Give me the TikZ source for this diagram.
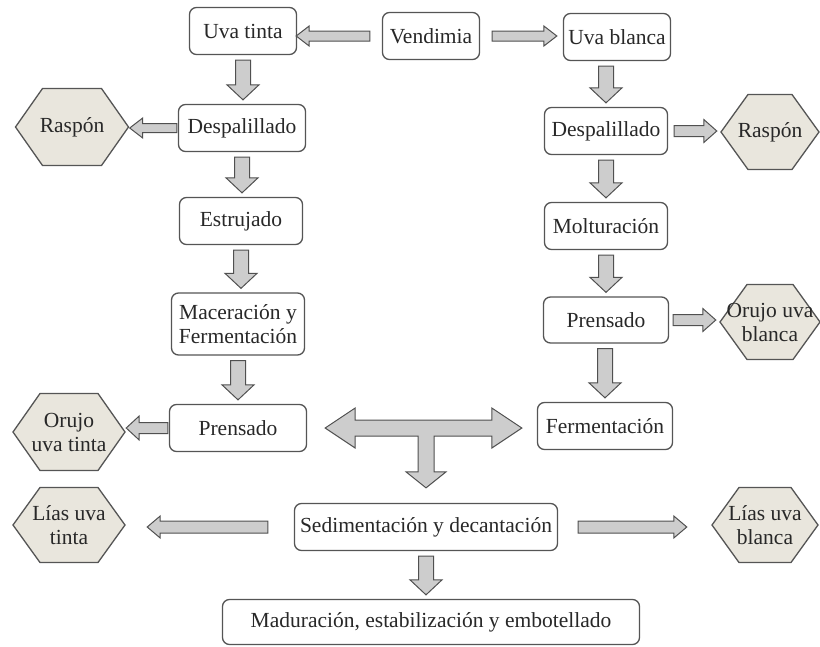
\documentclass[tikz,border=0pt]{standalone}
\usepackage{fontspec}
\setmainfont{Liberation Serif}
\usetikzlibrary{calc}

\definecolor{borde}{RGB}{85,85,85}
\definecolor{hexfondo}{RGB}{233,230,221}
\definecolor{flechafondo}{RGB}{205,205,205}
\definecolor{flechaborde}{RGB}{80,80,80}
\definecolor{texto}{RGB}{40,40,40}

\def\fsw{7.5pt}\def\fhw{16pt}\def\fhl{15pt}\def\fgi{5pt}\def\fgf{4pt}

\tikzset{
  paso/.style={draw=borde, line width=1.3pt, rounded corners=7pt, fill=white,
    align=center, inner sep=2pt, minimum height=47pt},
  residuo/.style={align=center, inner sep=2pt},
  hexa/.style={draw=borde, line width=1.3pt, fill=hexfondo, line join=miter},
  cuerpo/.code={\def\fsw{#1}},
  punta/.code={\def\fhw{#1}},
  largo/.code={\def\fhl{#1}},
  huecoi/.code={\def\fgi{#1}},
  huecof/.code={\def\fgf{#1}},
  bloque/.style={draw=flechaborde, fill=flechafondo, line width=1pt},
  flecha/.style={bloque,
    to path={let \p1=(\tikztostart), \p2=(\tikztotarget),
      \n1={atan2(\y2-\y1,\x2-\x1)}, \n2={veclen(\x2-\x1,\y2-\y1)} in
      ($(\p1)+(\n1:\fgi)+({\n1+90}:\fsw)$)
      -- ($(\p1)+(\n1:{\n2-\fgf-\fhl})+({\n1+90}:\fsw)$)
      -- ($(\p1)+(\n1:{\n2-\fgf-\fhl})+({\n1+90}:\fhw)$)
      -- ($(\p1)+(\n1:{\n2-\fgf})$)
      -- ($(\p1)+(\n1:{\n2-\fgf-\fhl})+({\n1-90}:\fhw)$)
      -- ($(\p1)+(\n1:{\n2-\fgf-\fhl})+({\n1-90}:\fsw)$)
      -- ($(\p1)+(\n1:\fgi)+({\n1-90}:\fsw)$) -- cycle}},
  lateral/.style={cuerpo=5.5pt, punta=11.5pt, largo=13pt}
}

\begin{document}
\begin{tikzpicture}[x=1pt, y=-1pt, font=\fontsize{21.5}{24}\selectfont, text=texto]
\useasboundingbox (0,0) rectangle (820,646);

\node[paso, minimum width=97pt] (vend) at (431,36) {Vendimia};
\node[paso, minimum width=107pt] (utinta) at (243,31) {Uva tinta};
\node[paso, minimum width=107pt] (ublanca) at (617,37) {Uva blanca};
\node[paso, minimum width=127pt] (despI) at (242,128) {Despalillado};
\node[paso, minimum width=123pt] (despD) at (606,131) {Despalillado};
\node[paso, minimum width=123pt] (estruj) at (241,221) {Estrujado};
\node[paso, minimum width=123pt] (moltur) at (606,226) {Molturación};
\node[paso, minimum width=133pt, minimum height=62pt] (macer) at (238,324) {Maceración y\\Fermentación};
\node[paso, minimum width=125pt, minimum height=46pt] (prensD) at (606,320) {Prensado};
\node[paso, minimum width=135pt] (fermen) at (605,426) {Fermentación};
\node[paso, minimum width=137pt] (prensI) at (238,428) {Prensado};
\node[paso, minimum width=263pt] (sedim) at (426,527) {Sedimentación y decantación};
\node[paso, minimum width=417pt, minimum height=45pt] (madur) at (431,622) {Maduración, estabilización y embotellado};

\foreach \nom/\cx/\cy/\an/\al/\txt in {raspI/72/127/113/77/{Raspón},
    raspD/770/132/98/75/{Raspón}, orujoD/770/322/100/75/{Orujo uva\\blanca},
    orujoI/69/432/112/77/{Orujo\\uva tinta}, liasI/69/525/112/75/{Lías uva\\tinta},
    liasD/765/525/106/75/{Lías uva\\blanca}}{
  \draw[hexa] ({\cx-\an/2},\cy) -- ({\cx-\an/2+27},{\cy-\al/2}) -- ({\cx+\an/2-27},{\cy-\al/2})
    -- ({\cx+\an/2},\cy) -- ({\cx+\an/2-27},{\cy+\al/2}) -- ({\cx-\an/2+27},{\cy+\al/2}) -- cycle;
  \node[residuo, minimum width=\an pt, minimum height=\al pt] (\nom) at (\cx,\cy) {\txt};
}

\draw[flecha, cuerpo=5pt, punta=10pt, largo=13pt, huecoi=12pt, huecof=-1pt] (vend.west) to (vend.west -| utinta.east);
\draw[flecha, cuerpo=5pt, punta=10pt, largo=13pt, huecoi=12pt, huecof=6pt] (vend.east) to (vend.east -| ublanca.west);
\draw[flecha] (utinta.south) to (utinta.south |- despI.north);
\draw[flecha] (despI.south) to (despI.south |- estruj.north);
\draw[flecha] (estruj.south) to (estruj.south |- macer.north);
\draw[flecha] (macer.south) to (macer.south |- prensI.north);
\draw[flecha] (ublanca.south -| despD.north) to (despD.north);
\draw[flecha] (despD.south) to (despD.south |- moltur.north);
\draw[flecha] (moltur.south) to (moltur.south |- prensD.north);
\draw[flecha] (prensD.south -| fermen.north) to (fermen.north);
\draw[flecha] (sedim.south) to (sedim.south |- madur.north);
\draw[flecha, lateral, cuerpo=4.5pt, punta=10pt, huecoi=1pt, huecof=1pt] (despI.west) to (despI.west -| raspI.east);
\draw[flecha, lateral, huecoi=6pt] (despD.east) to (despD.east -| raspD.west);
\draw[flecha, lateral, huecoi=4pt] (prensD.east) to (prensD.east -| orujoD.west);
\draw[flecha, lateral, punta=12pt, huecoi=1pt, huecof=1pt] (prensI.west) to (prensI.west -| orujoI.east);
\draw[flecha, cuerpo=6pt, punta=11pt, largo=13pt, huecoi=26pt, huecof=22pt] (sedim.west) to (sedim.west -| liasI.east);
\draw[flecha, cuerpo=6pt, punta=11pt, largo=13pt, huecoi=20pt, huecof=25pt] (sedim.east) to (sedim.east -| liasD.west);

\coordinate (ti) at ([xshift=18pt]prensI.east);
\coordinate (td) at ([xshift=-15pt]fermen.west);
\coordinate (tb) at ([yshift=15pt]sedim.north);
\draw[bloque] let \p1=(ti), \p2=(td), \p3=(tb) in
  (\x1,\y1) -- ({\x1+30pt},{\y1+20pt}) -- ({\x1+30pt},{\y1+8pt})
  -- ({\x2-30pt},{\y1+8pt}) -- ({\x2-30pt},{\y1+20pt}) -- (\x2,\y1)
  -- ({\x2-30pt},{\y1-20pt}) -- ({\x2-30pt},{\y1-8pt})
  -- ({\x3+8pt},{\y1-8pt}) -- ({\x3+8pt},{\y3+16pt}) -- ({\x3+20pt},{\y3+16pt})
  -- (\x3,\y3) -- ({\x3-20pt},{\y3+16pt}) -- ({\x3-8pt},{\y3+16pt})
  -- ({\x3-8pt},{\y1-8pt}) -- ({\x1+30pt},{\y1-8pt}) -- ({\x1+30pt},{\y1-20pt}) -- cycle;
\end{tikzpicture}
\end{document}
